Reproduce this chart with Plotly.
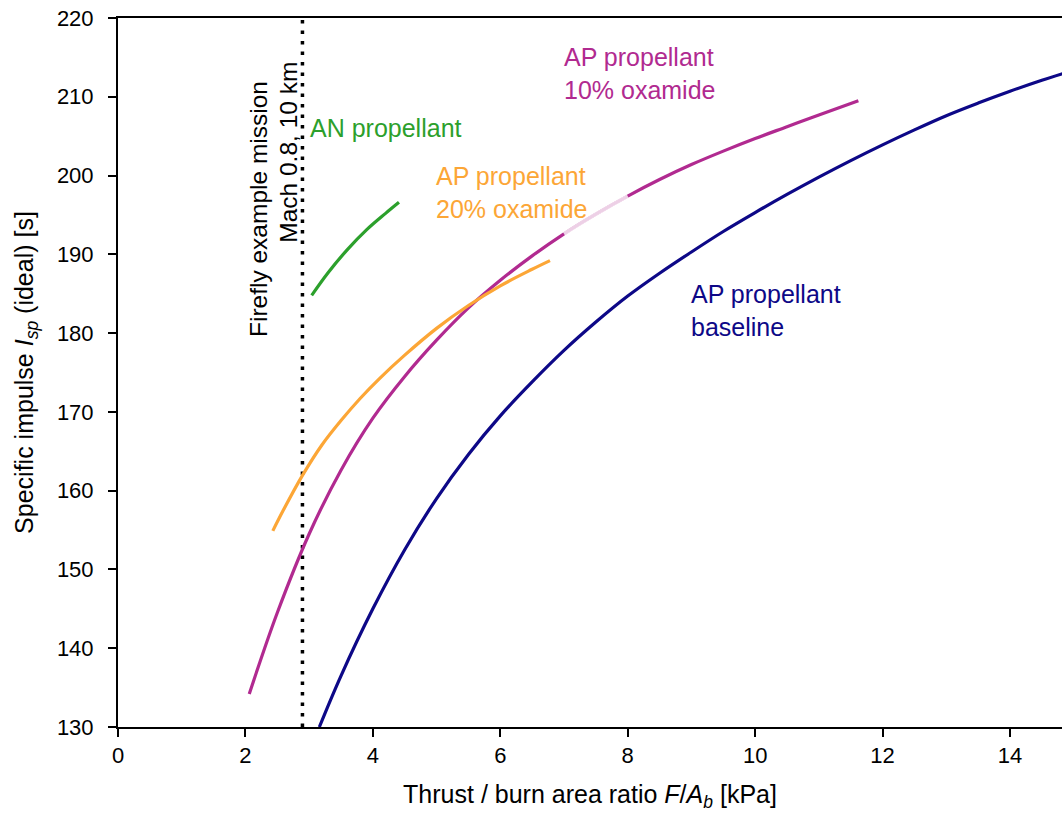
import plotly.graph_objects as go

# ---- data ----
baseline_x = [3.16, 3.5, 4.0, 4.5, 5.0, 5.5, 6.0, 6.5, 7.0, 7.5, 8.0, 8.5, 9.0, 9.5, 10.0, 10.5, 11.0, 11.5, 12.0, 12.5, 13.0, 13.5, 14.0, 14.5, 14.85]
baseline_y = [130.0, 136.5, 145.0, 152.5, 159.0, 164.6, 169.5, 173.8, 177.8, 181.4, 184.7, 187.6, 190.3, 192.9, 195.3, 197.6, 199.8, 201.9, 203.9, 205.8, 207.6, 209.2, 210.7, 212.1, 213.0]

ox10_x = [2.06, 2.5, 3.0, 3.5, 4.0, 4.5, 5.0, 5.5, 6.0, 6.5, 7.0, 7.5, 8.0, 8.5, 9.0, 9.5, 10.0, 10.5, 11.0, 11.62]
ox10_y = [134.2, 144.5, 154.5, 162.6, 169.2, 174.5, 179.1, 183.2, 186.7, 189.8, 192.6, 195.1, 197.4, 199.5, 201.4, 203.1, 204.7, 206.2, 207.7, 209.5]

ox20_x = [2.43, 2.6, 2.9, 3.2, 3.5, 3.8, 4.1, 4.5, 5.0, 5.5, 6.0, 6.5, 6.78]
ox20_y = [154.9, 157.6, 162.0, 165.8, 168.9, 171.7, 174.2, 177.2, 180.6, 183.5, 186.0, 188.1, 189.2]

an_x = [3.04, 3.3, 3.6, 3.9, 4.2, 4.41]
an_y = [184.8, 187.7, 190.6, 193.1, 195.2, 196.6]

mission_x = 2.895
x_ticks = [0, 2, 4, 6, 8, 10, 12, 14]
y_ticks = [130, 140, 150, 160, 170, 180, 190, 200, 210, 220]

C_BASE = "#0d0887"
C_OX10 = "#b12a90"
C_OX20 = "#fca636"
C_AN = "#2ca02c"
FONT = "Liberation Sans"
LBL = 25

fig = go.Figure()

fig.add_trace(go.Scatter(x=[mission_x, mission_x], y=[y_ticks[0], y_ticks[-1]], mode="lines",
                         line=dict(color="black", width=3.5, dash="3.5px,7px"), hoverinfo="skip"))
fig.add_trace(go.Scatter(x=baseline_x, y=baseline_y, mode="lines",
                         line=dict(color=C_BASE, width=3.2, shape="spline", smoothing=1)))
fig.add_trace(go.Scatter(x=ox10_x, y=ox10_y, mode="lines",
                         line=dict(color=C_OX10, width=3.2, shape="spline", smoothing=1)))
# faded section of the 10% oxamide curve
fade_x = [x for x in ox10_x if 7.0 <= x <= 8.0]
fade_y = [y for x, y in zip(ox10_x, ox10_y) if 7.0 <= x <= 8.0]
fig.add_trace(go.Scatter(x=fade_x, y=fade_y, mode="lines", opacity=0.78,
                         line=dict(color="white", width=3.8, shape="spline", smoothing=1)))
fig.add_trace(go.Scatter(x=ox20_x, y=ox20_y, mode="lines",
                         line=dict(color=C_OX20, width=3.2, shape="spline", smoothing=1)))
fig.add_trace(go.Scatter(x=an_x, y=an_y, mode="lines",
                         line=dict(color=C_AN, width=3.2, shape="spline", smoothing=1)))

def label(x, y, text, color):
    fig.add_annotation(x=x, y=y, xref="x", yref="y", text=text, showarrow=False,
                       xanchor="left", yanchor="middle", align="left",
                       font=dict(family=FONT, size=LBL, color=color))

label(2.98, 206.0, "AN propellant", C_AN)
label(4.96, 197.8, "AP propellant<br>20% oxamide", C_OX20)
label(6.97, 213.0, "AP propellant<br>10% oxamide", C_OX10)
label(8.96, 182.9, "AP propellant<br>baseline", C_BASE)

fig.add_annotation(x=2.197, y=195.75, xref="x", yref="y", text="Firefly example mission",
                   showarrow=False, textangle=-90, font=dict(family=FONT, size=24.5, color="black"))
fig.add_annotation(x=2.684, y=202.9, xref="x", yref="y", text="Mach 0.8, 10 km",
                   showarrow=False, textangle=-90, font=dict(family=FONT, size=24.5, color="black"))

fig.update_layout(
    width=1062, height=814,
    margin=dict(l=118, r=0, t=18, b=87),
    plot_bgcolor="white", paper_bgcolor="white",
    showlegend=False,
    font=dict(family=FONT, size=22, color="black"),
)
fig.update_xaxes(range=[0, 14.816], tickvals=x_ticks, showgrid=False, zeroline=False,
                 showline=True, linecolor="black", linewidth=2, mirror=True,
                 ticks="outside", ticklen=8, tickwidth=1.5, tickcolor="black",
                 tickfont=dict(size=22),
                 title=dict(text="Thrust / burn area ratio <i>F</i>/<i>A</i><sub><i>b</i></sub> [kPa]",
                            font=dict(size=25), standoff=18))
fig.update_yaxes(range=[130, 220], tickvals=y_ticks, showgrid=False, zeroline=False,
                 showline=True, linecolor="black", linewidth=2,
                 ticks="outside", ticklen=8, tickwidth=1.5, tickcolor="black",
                 tickfont=dict(size=22), ticklabelstandoff=10,
                 title=dict(text="Specific impulse <i>I</i><sub><i>sp</i></sub> (ideal) [s]",
                            font=dict(size=25), standoff=16))

fig.write_html("out.html", config={"displayModeBar": False},
               post_script="document.body.style.margin='0';document.body.style.overflow='hidden';")
